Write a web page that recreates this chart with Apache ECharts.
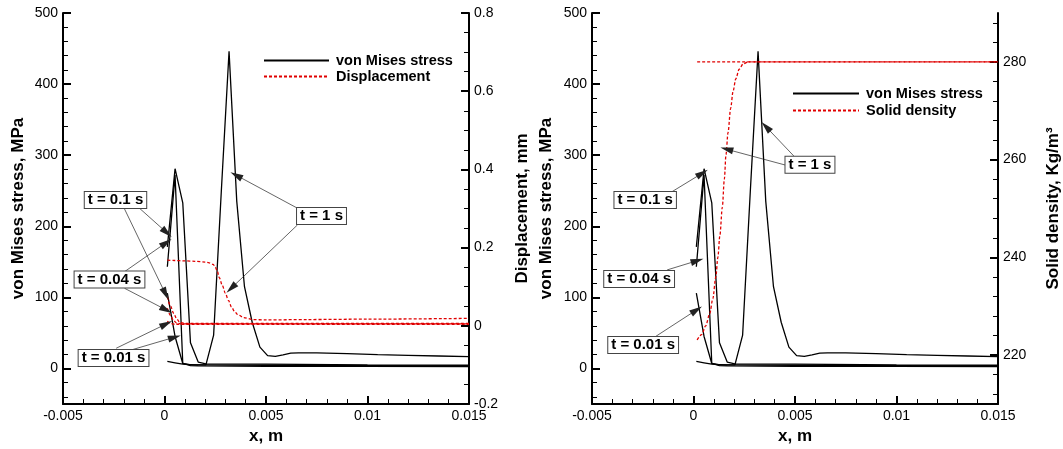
<!DOCTYPE html>
<html><head><meta charset="utf-8">
<script src="https://cdn.jsdelivr.net/npm/echarts@6/dist/echarts.min.js"></script>
<style>html,body{margin:0;padding:0;background:#fff}#c{width:1063px;height:449px}</style>
</head><body><div id="c"></div>
<script>
// ---------- tick values ----------
const xTicks = [-0.005, 0, 0.005, 0.01, 0.015];
const xMinorTicks = [-0.004,-0.003,-0.002,-0.001,0.001,0.002,0.003,0.004,0.006,0.007,0.008,0.009,0.011,0.012,0.013,0.014];
const stressTicks = [0, 100, 200, 300, 400, 500];
const stressMinorTicks = [-40,-20,20,40,60,80,120,140,160,180,220,240,260,280,320,340,360,380,420,440,460,480];
const dispTicks = [-0.2, 0, 0.2, 0.4, 0.6, 0.8];
const dispMinorTicks = [-0.15,-0.1,-0.05,0.05,0.1,0.15,0.25,0.3,0.35,0.45,0.5,0.55,0.65,0.7,0.75];
const densTicks = [220, 240, 260, 280];
const densMinorTicks = [212,216,224,228,232,236,244,248,252,256,264,268,272,276,284,288];

// ---------- series values: [x (m), value] ----------
const stressT001 = [[0.00014,106],[0.00052,45],[0.00090,7],[0.00128,4],[0.00166,3.5],[0.005,3],[0.010,2.8],[0.015,2.5]];
const stressT004 = [[0.00014,143],[0.00052,272],[0.00090,7],[0.00128,5],[0.00166,5],[0.005,4.5],[0.010,4],[0.015,3.5]];
const stressT01  = [[0.00014,171],[0.00052,281],[0.00090,233],[0.00128,36],[0.00166,9],[0.00204,6.5],[0.005,6],[0.010,5],[0.015,4.5]];
const stressT1   = [[0.00014,10],[0.00052,8],[0.00090,6],[0.00128,5.5],[0.00166,5],[0.00204,5],[0.00242,47],[0.00280,250],[0.00318,446],[0.00356,235],[0.00394,115],[0.00432,65],[0.00470,30],[0.00508,18],[0.00546,17],[0.00584,19],[0.00622,21.5],[0.0066,22],[0.0075,22],[0.009,21],[0.0105,19.5],[0.012,18.5],[0.0135,17.5],[0.015,16.5]];

const dispT001 = [[0.00014,0.012],[0.0003,0.006],[0.0005,0.004],[0.015,0.004]];
const dispT004 = [[0.00014,0.045],[0.0003,0.026],[0.00045,0.013],[0.0006,0.007],[0.0008,0.005],[0.015,0.005]];
const dispT01  = [[0.00014,0.074],[0.0003,0.05],[0.00045,0.032],[0.0006,0.018],[0.00075,0.009],[0.001,0.006],[0.015,0.006]];
const dispT1   = [[0.00014,0.168],[0.0005,0.167],[0.001,0.166],[0.0015,0.165],[0.002,0.163],[0.0022,0.161],[0.0024,0.157],[0.0025,0.15],[0.0026,0.14],[0.0027,0.123],[0.00285,0.103],[0.003,0.083],[0.00315,0.065],[0.0033,0.048],[0.00345,0.037],[0.0036,0.029],[0.0039,0.021],[0.00435,0.016],[0.005,0.015],[0.007,0.016],[0.010,0.017],[0.015,0.019]];

const densT1    = [[0.00018,223.1],[0.0004,224.2],[0.0006,226],[0.0008,228.5],[0.00095,231.5],[0.0011,236],[0.0012,240],[0.0013,244.5],[0.00142,250.3],[0.00152,256],[0.0016,261],[0.0017,265.5],[0.00183,270.5],[0.00195,274],[0.00208,276.5],[0.00225,278.5],[0.00245,279.6],[0.0027,280],[0.015,280]];
const densEarly = [[0.00018,280],[0.015,280]];

const annoLabels = ['t = 0.1 s', 't = 0.04 s', 't = 0.01 s', 't = 1 s'];

// ---------- option construction ----------
const FF = 'Liberation Sans, Arial, sans-serif';
const BLACK = '#000';
const RED = '#e00000';

function mainAxis(extra) {
  return Object.assign({
    type: 'value',
    axisLine: { show: true, onZero: false, lineStyle: { color: BLACK, width: 2 } },
    axisTick: { show: true, inside: true, length: 8, lineStyle: { color: BLACK, width: 2 } },
    axisLabel: { show: true, color: BLACK, fontFamily: FF, fontSize: 14, margin: 5 },
    splitLine: { show: false },
    nameTextStyle: { color: BLACK, fontFamily: FF, fontSize: 17, fontWeight: 'bold' }
  }, extra);
}
function minorAxis(gi, pos, min, max, ticks) {
  return {
    type: 'value', gridIndex: gi, position: pos, min: min, max: max,
    axisLine: { show: false, onZero: false },
    axisTick: { show: true, inside: true, length: 5, customValues: ticks, lineStyle: { color: BLACK, width: 1 } },
    axisLabel: { show: false },
    splitLine: { show: false }
  };
}
function withTicks(ax, ticks) {
  ax.axisTick = Object.assign({}, ax.axisTick, { customValues: ticks });
  ax.axisLabel = Object.assign({}, ax.axisLabel, { customValues: ticks, formatter: v => String(v) });
  return ax;
}

const xMain = (gi) => withTicks(mainAxis({ gridIndex: gi, position: 'bottom', min: -0.005, max: 0.015,
  name: 'x, m', nameLocation: 'middle', nameGap: 17 }), xTicks);

const xAxis = [
  xMain(0), minorAxis(0, 'bottom', -0.005, 0.015, xMinorTicks),
  xMain(1), minorAxis(1, 'bottom', -0.005, 0.015, xMinorTicks)
];
const yAxis = [
  withTicks(mainAxis({ gridIndex: 0, position: 'left', min: -50, max: 500, name: 'von Mises stress, MPa',
    nameLocation: 'middle', nameGap: 36, nameRotate: 90 }), stressTicks),
  minorAxis(0, 'left', -50, 500, stressMinorTicks),
  withTicks(mainAxis({ gridIndex: 0, position: 'right', min: -0.2, max: 0.8, name: 'Displacement, mm',
    nameLocation: 'middle', nameGap: 45, nameRotate: 90 }), dispTicks),
  minorAxis(0, 'right', -0.2, 0.8, dispMinorTicks),
  withTicks(mainAxis({ gridIndex: 1, position: 'left', min: -50, max: 500, name: 'von Mises stress, MPa',
    nameLocation: 'middle', nameGap: 37, nameRotate: 90 }), stressTicks),
  minorAxis(1, 'left', -50, 500, stressMinorTicks),
  withTicks(mainAxis({ gridIndex: 1, position: 'right', min: 210, max: 290, name: 'Solid density, Kg/m\u00B3',
    nameLocation: 'middle', nameGap: 47, nameRotate: 90 }), densTicks),
  minorAxis(1, 'right', 210, 290, densMinorTicks)
];

function lineSeries(name, data, xi, yi, red, smooth) {
  return {
    type: 'line', name: name, data: data, xAxisIndex: xi, yAxisIndex: yi,
    symbol: 'none', showSymbol: false, smooth: smooth ? 0.3 : false, smoothMonotone: 'x',
    lineStyle: red ? { color: RED, width: 1.3, type: [3, 2] } : { color: BLACK, width: 1.3 },
    itemStyle: { color: red ? RED : BLACK },
    z: red ? 3 : 2, silent: true
  };
}

const boxLabel = {
  show: true, position: 'inside', formatter: '{b}', color: BLACK, fontFamily: FF, fontSize: 15, fontWeight: 'bold',
  backgroundColor: '#fff', borderColor: '#444', borderWidth: 1, padding: [1, 3, 0, 3]
};
function annoSeries(xi, yi, boxes, arrows) {
  return {
    type: 'line', name: 'anno', data: [], xAxisIndex: xi, yAxisIndex: yi, silent: true, z: 10,
    markLine: {
      silent: true, symbol: ['none', 'triangle'], symbolSize: [7, 13], animation: false,
      label: { show: false }, lineStyle: { color: '#222', width: 0.7, type: 'solid' },
      data: arrows.map(a => [{ coord: a[0] }, { coord: a[1] }])
    },
    markPoint: {
      silent: true, symbol: 'rect', symbolSize: 1, animation: false,
      itemStyle: { color: 'rgba(0,0,0,0)' }, label: boxLabel,
      data: boxes.map(b => ({ name: b[0], coord: b[1] }))
    }
  };
}

const leftBoxes = [
  [annoLabels[0], [-0.002414, 237]],
  [annoLabels[1], [-0.00271, 125.2]],
  [annoLabels[2], [-0.00251, 14.8]],
  [annoLabels[3], [0.007734, 214.5]]
];
const leftArrows = [
  [[-0.00123, 225.3], [0.000113, 191]],
  [[-0.00197, 224.4], [0.000049, 104.8]],
  [[-0.00197, 136.1], [0.000084, 177]],
  [[-0.00197, 112.8], [0.000084, 82.3]],
  [[-0.00238, 28.4], [0.000084, 62.6]],
  [[-0.00164, 26], [0.000493, 43.9]],
  [[0.00655, 225.4], [0.00353, 271.8]],
  [[0.00655, 201.9], [0.003286, 112.8]]
];
const rightBoxes = [
  [annoLabels[0], [-0.00238, 237]],
  [annoLabels[1], [-0.002678, 125.9]],
  [annoLabels[2], [-0.00248, 33]],
  [annoLabels[3], [0.005737, 286.7]]
];
const rightArrows = [
  [[-0.001056, 248.7], [0.000431, 274.6]],
  [[-0.0013, 138.6], [0.000183, 151.6]],
  [[-0.00188, 44.7], [0.000149, 82.3]],
  [[0.004512, 286.2], [0.001636, 308.3]],
  [[0.004973, 297.9], [0.00357, 340.1]]
];

const series = [
  lineSeries('von Mises stress', stressT1, 0, 0, false),
  lineSeries('von Mises stress', stressT01, 0, 0, false),
  lineSeries('von Mises stress', stressT004, 0, 0, false),
  lineSeries('von Mises stress', stressT001, 0, 0, false),
  lineSeries('Displacement', dispT1, 0, 2, true, true),
  lineSeries('Displacement', dispT01, 0, 2, true, true),
  lineSeries('Displacement', dispT004, 0, 2, true, true),
  lineSeries('Displacement', dispT001, 0, 2, true, true),
  lineSeries('von Mises stress', stressT1, 2, 4, false),
  lineSeries('von Mises stress', stressT01, 2, 4, false),
  lineSeries('von Mises stress', stressT004, 2, 4, false),
  lineSeries('von Mises stress', stressT001, 2, 4, false),
  lineSeries('Solid density', densT1, 2, 6, true, true),
  lineSeries('Solid density', densEarly, 2, 6, true),
  annoSeries(0, 0, leftBoxes, leftArrows),
  annoSeries(2, 4, rightBoxes, rightArrows)
];

const legendText = { color: BLACK, fontFamily: FF, fontSize: 14.5, fontWeight: 'bold', padding: [0, 0, 0, 2] };
const legendItem = { color: 'rgba(0,0,0,0)', borderColor: 'rgba(0,0,0,0)', borderWidth: 0, opacity: 0 };
const option = {
  backgroundColor: '#fff',
  animation: false,
  grid: [
    { left: 63, top: 13, width: 406, height: 391, outerBoundsMode: 'none' },
    { left: 592, top: 13, width: 406, height: 391, outerBoundsMode: 'none' }
  ],
  legend: [
    { left: 258, top: 48, orient: 'vertical', itemWidth: 65, itemHeight: 14, itemGap: 1, selectedMode: false,
      itemStyle: legendItem, data: ['von Mises stress', 'Displacement'], textStyle: legendText },
    { left: 787, top: 81, orient: 'vertical', itemWidth: 66, itemHeight: 14, itemGap: 2, selectedMode: false,
      itemStyle: legendItem, data: ['von Mises stress', 'Solid density'], textStyle: legendText }
  ],
  xAxis: xAxis,
  yAxis: yAxis,
  series: series
};
const chart = echarts.init(document.getElementById('c'), null, { renderer: 'canvas' });
chart.setOption(option);
</script></body></html>
